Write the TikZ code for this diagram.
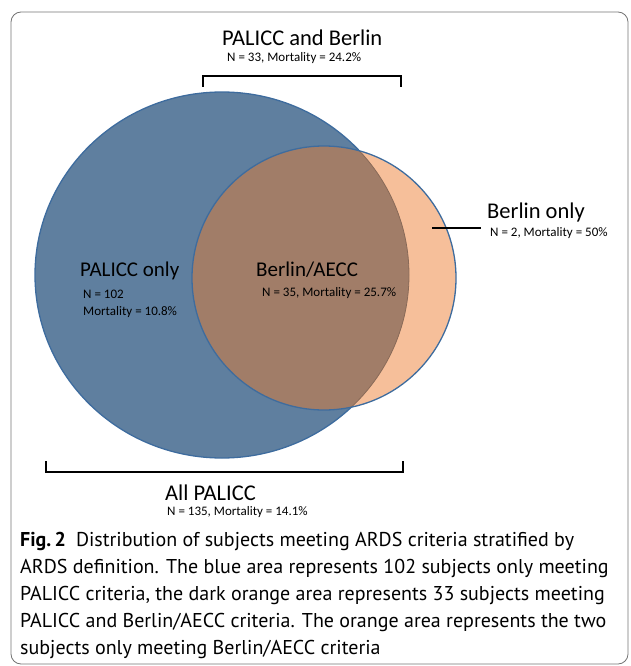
\documentclass[tikz,border=0pt]{standalone}
\usepackage{fontspec}
\setmainfont{Carlito}
\newfontfamily\capfont{PT Sans}
\definecolor{palblue}{RGB}{95,127,159}
\definecolor{rimblue}{RGB}{62,108,158}
\definecolor{overlap}{RGB}{161,125,104}
\definecolor{berlinorange}{RGB}{246,191,154}
\begin{document}
\begin{tikzpicture}[x=1pt,y=-1pt,
	big/.style={font=\fontsize{22.5}{26}\selectfont,inner sep=0pt,anchor=west},
	mid/.style={font=\fontsize{21}{25}\selectfont,inner sep=0pt,anchor=west},
	small/.style={font=\fontsize{13}{17}\selectfont,inner sep=0pt,anchor=west},
	bracket/.style={line width=2.2pt},
	rim/.style={draw=rimblue,line width=1.3pt}]
	\useasboundingbox (0,0) rectangle (630,666);
	%	frame
	\begin{scope}
		\clip (0,0) rectangle (630,666);
		\draw[black!55,line width=0.8pt,rounded corners=10pt] (11,12) rectangle (628,664);
	\end{scope}
	%	circles
	\coordinate (P) at (222,275);
	\coordinate (B) at (324,278);
	\fill[palblue,rim] (P) ellipse[x radius=187pt,y radius=183pt];
	\fill[berlinorange] (B) circle[radius=132pt];
	\begin{scope}
		\clip (P) ellipse[x radius=187pt,y radius=183pt];
		\fill[overlap] (B) circle[radius=132pt];
	\end{scope}
	\begin{scope}
		\clip (B) circle[radius=132pt];
		\draw[overlap!85!black,line width=0.8pt] (P) ellipse[x radius=187pt,y radius=183pt];
	\end{scope}
	\draw[rim] (B) circle[radius=132pt];
	%	top bracket
	\node[big] (both) at (222,38) {PALICC and Berlin};
	\node[small] (bothn) at (227,58) {N = 33, Mortality = 24.2\%};
	\coordinate (t1) at (203,87);
	\coordinate (t2) at (401,87);
	\draw[bracket] (t1) -- (203,76) -- (401,76) -- (t2);
	%	Berlin only
	\node[big] (bonly) at (487,213) {Berlin only};
	\node[small] (bonlyn) at (490,233) {N = 2, Mortality = 50\%};
	\coordinate (bl1) at (432,228);
	\coordinate (bl2) at (481,228);
	\draw[line width=1.6pt] (bl1) -- (bl2);
	%	inside labels
	\node[mid] (ponly) at (80,271) {PALICC only};
	\node[small,align=left] (ponlyn) at (83,304) {N = 102\\Mortality = 10.8\%};
	\node[mid] (aecc) at (256,270) {Berlin/AECC};
	\node[small] (aeccn) at (262,293) {N = 35, Mortality = 25.7\%};
	%	bottom bracket
	\coordinate (b1) at (46,461);
	\coordinate (b2) at (403,461);
	\draw[bracket] (b1) -- (46,472) -- (403,472) -- (b2);
	\node[big] (all) at (165,493) {All PALICC};
	\node[small] (alln) at (167,512) {N = 135, Mortality = 14.1\%};
	%	caption
	\node[anchor=north west,align=left,inner sep=0pt,font=\capfont\fontsize{20}{27}\selectfont] (cap) at (20,532)
	{{\bfseries Fig.\,2}\enspace Distribution of subjects meeting ARDS criteria stratified by\\
	ARDS definition. The blue area represents 102 subjects only meeting\\
	PALICC criteria, the dark orange area represents 33 subjects meeting\\
	PALICC and Berlin/AECC criteria. The orange area represents the two\\
	subjects only meeting Berlin/AECC criteria};
\end{tikzpicture}
\end{document}
